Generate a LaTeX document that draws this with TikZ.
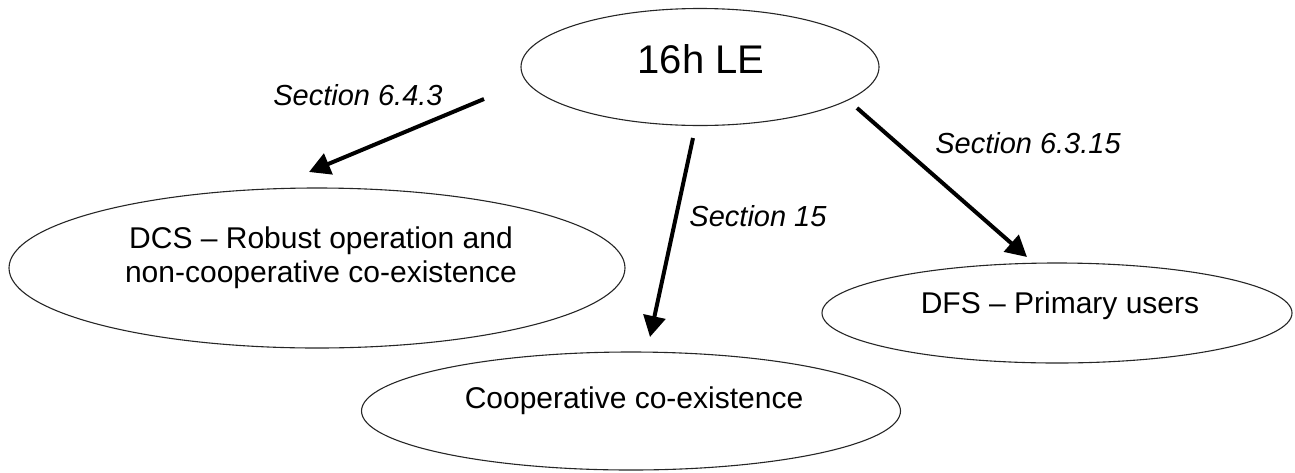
\documentclass[tikz,border=0pt]{standalone}
\usepackage{fontspec}
\setmainfont{Liberation Sans}
\usetikzlibrary{shapes.geometric,arrows.meta}
\begin{document}
\begin{tikzpicture}[x=1pt,y=-1pt,
  blob/.style={draw=black!85,line width=1.1pt,ellipse,inner sep=0pt},
  txt/.style={inner sep=0pt,font=\fontsize{30}{34}\selectfont,align=center},
  sec/.style={inner sep=0pt,font=\fontsize{29}{34}\selectfont\itshape,anchor=base},
  link/.style={line width=4pt,-{Triangle[length=21pt,width=22pt]}}]
\useasboundingbox (0,0) rectangle (1295,472);
% ellipses
\node[blob,minimum width=358pt,minimum height=117pt] (le) at (700,67) {};
\node[blob,minimum width=616pt,minimum height=160pt] (dcs) at (317,268) {};
\node[blob,minimum width=539pt,minimum height=118pt] (coop) at (631,411) {};
\node[blob,minimum width=470pt,minimum height=100pt] (dfs) at (1057,313) {};
% texts
\node[inner sep=0pt,font=\fontsize{40}{44}\selectfont,anchor=base] (letxt) at (701,73) {16h LE};
\node[txt] (dcstxt) at (321,258) {DCS – Robust operation and\\non-cooperative co-existence};
\node[txt,anchor=base] (cooptxt) at (634,408) {Cooperative co-existence};
\node[txt,anchor=base] (dfstxt) at (1060,313) {DFS – Primary users};
% section labels
\node[sec] (s1) at (358,105) {Section 6.4.3};
\node[sec] (s2) at (758,226) {Section 15};
\node[sec] (s3) at (1028,153) {Section 6.3.15};
% arrow ends
\coordinate (a1s) at (484,99);
\coordinate (a1e) at (309,172);
\coordinate (a2s) at (693,138);
\coordinate (a2e) at (650,337);
\coordinate (a3s) at (857,108);
\coordinate (a3e) at (1027,257);
\draw[link] (a1s) -- (a1e);
\draw[link] (a2s) -- (a2e);
\draw[link] (a3s) -- (a3e);
\end{tikzpicture}
\end{document}
